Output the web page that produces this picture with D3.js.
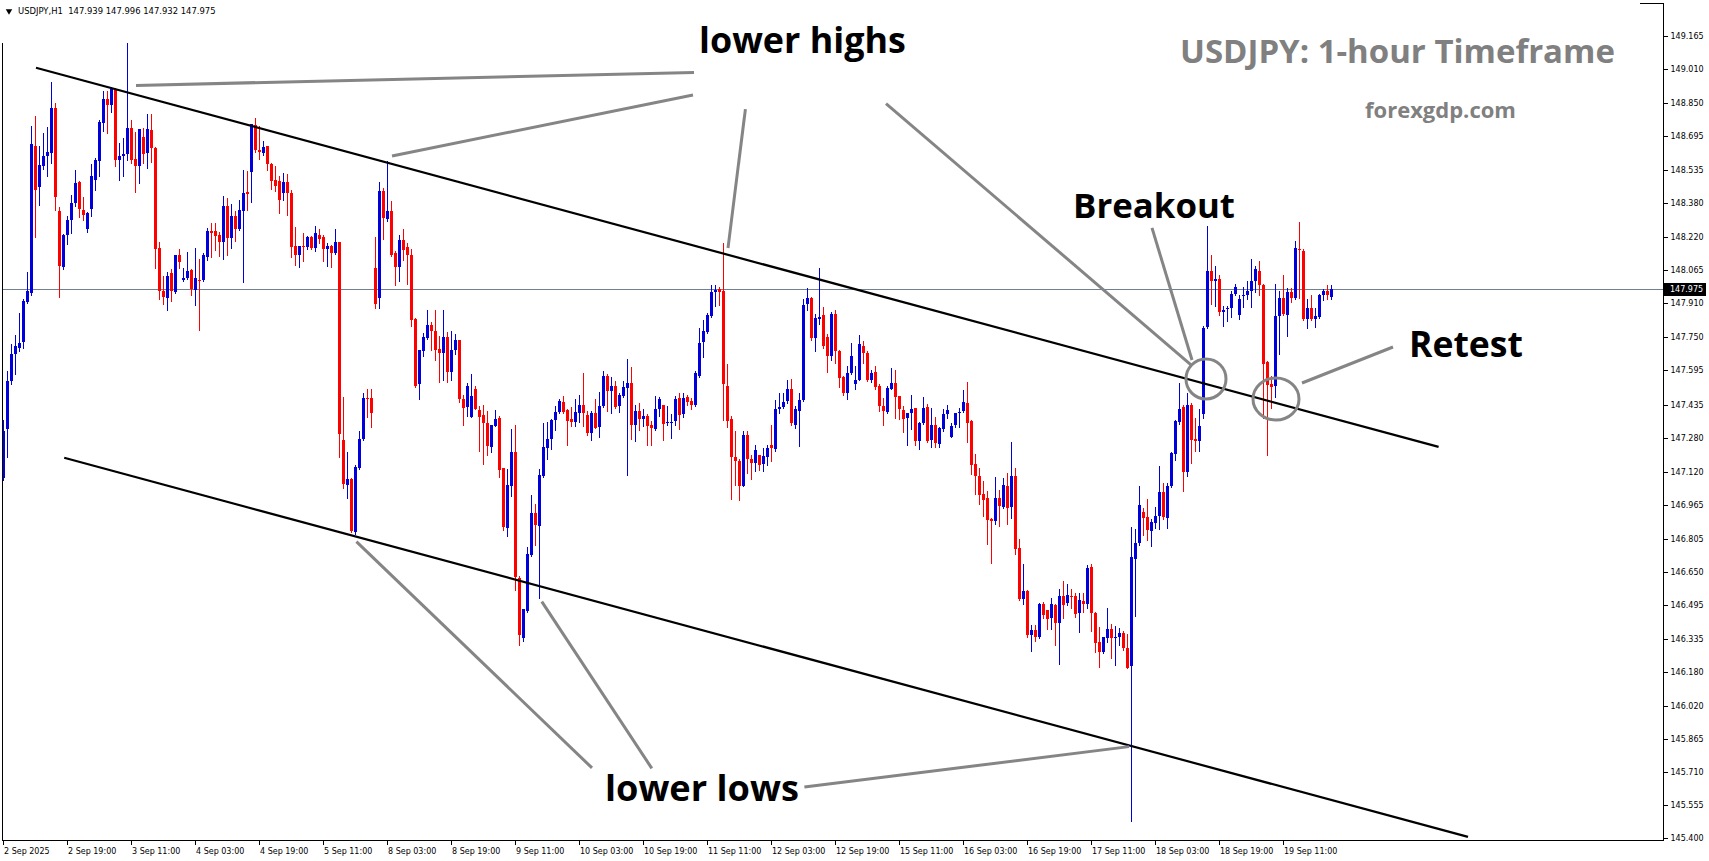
<!DOCTYPE html>
<html><head><meta charset="utf-8">
<script src="https://cdn.jsdelivr.net/npm/d3@7/dist/d3.min.js"></script>
<style>html,body{margin:0;padding:0;background:#fff;overflow:hidden}svg{display:block}</style>
</head><body>
<svg id="chart" width="1709" height="861"></svg>
<script>
// ---------------- DATA (USDJPY H1) ----------------
const opens = [147.09,147.318,147.545,147.67,147.70,147.73,147.915,147.96,148.65,148.457,148.557,148.60,148.617,148.825,148.345,148.08,148.23,148.30,148.38,148.48,148.35,148.26,148.355,148.49,148.578,148.755,148.867,148.84,148.914,148.585,148.60,148.609,148.734,148.588,148.554,148.692,148.617,148.726,148.64,148.17,147.97,147.934,148.053,147.962,148.139,148.019,148.03,148.066,147.972,148.02,148.02,148.128,148.249,148.249,148.233,148.20,148.369,148.218,148.319,148.257,148.343,148.433,148.526,148.745,148.628,148.617,148.648,148.565,148.487,148.484,148.429,148.48,148.429,148.178,148.139,148.181,148.175,148.22,148.17,148.233,148.22,148.163,148.178,148.144,148.199,147.27,147.056,147.083,146.836,147.138,147.275,147.466,147.466,148.074,147.936,148.437,148.307,148.343,148.144,148.08,148.205,148.174,148.136,147.837,147.529,147.685,147.748,147.806,147.782,147.696,147.675,147.751,147.587,147.69,147.736,147.463,147.423,147.376,147.506,147.407,147.385,147.349,147.236,147.336,147.373,147.135,146.856,147.052,147.213,146.621,146.337,146.468,146.728,146.926,146.864,147.099,147.232,147.271,147.362,147.399,147.446,147.408,147.365,147.354,147.393,147.432,147.388,147.302,147.396,147.33,147.427,147.568,147.498,147.521,147.427,147.474,147.513,147.537,147.341,147.404,147.368,147.38,147.341,147.318,147.415,147.435,147.346,147.349,147.357,147.466,147.391,147.471,147.451,147.435,147.571,147.728,147.775,147.85,147.962,147.975,147.967,147.521,147.365,147.188,147.172,147.052,147.29,147.18,147.161,147.20,147.158,147.19,147.243,147.224,147.416,147.423,147.451,147.506,147.341,147.404,147.455,147.905,147.936,147.748,147.837,147.853,147.753,147.665,147.858,147.685,147.563,147.49,147.581,147.532,147.552,147.712,147.678,147.548,147.587,147.521,147.43,147.399,147.51,147.534,147.474,147.409,147.37,147.394,147.417,147.265,147.347,147.422,147.269,147.339,147.25,147.319,147.391,147.284,147.339,147.394,147.406,147.444,147.359,147.156,147.10,147.015,146.998,146.898,146.89,146.995,146.952,147.053,146.956,147.10,146.76,146.522,146.56,146.353,146.377,146.342,146.499,146.47,146.431,146.494,146.408,146.536,146.502,146.536,146.536,146.455,146.514,146.499,146.674,146.458,146.322,146.272,146.337,146.381,146.342,146.342,146.364,146.29,146.207,146.708,146.783,146.929,146.906,146.84,146.878,146.91,147.024,146.903,147.054,147.205,147.351,147.421,147.118,147.432,147.275,147.262,147.389,147.799,148.064,148.013,148.026,147.867,147.886,147.886,147.956,147.856,147.943,147.95,147.966,148.013,148.064,147.994,147.635,147.531,147.521,147.852,147.937,147.856,147.962,147.937,148.164,148.158,147.837,147.886,147.837,147.848,147.947,147.966,147.939];
const highs = [147.36,147.59,147.72,147.76,147.865,147.93,148.056,148.742,148.79,148.65,148.71,148.74,148.95,148.85,148.36,148.235,148.32,148.42,148.538,148.485,148.41,148.34,148.562,148.593,148.77,148.906,148.906,148.926,148.92,148.664,148.684,149.133,148.773,148.714,148.73,148.734,148.80,148.797,148.645,148.199,148.038,148.058,148.069,148.135,148.163,148.074,148.15,148.069,148.17,148.116,148.147,148.265,148.285,148.285,148.244,148.416,148.405,148.374,148.343,148.393,148.534,148.53,148.75,148.778,148.742,148.674,148.65,148.568,148.554,148.51,148.52,148.515,148.441,148.269,148.18,148.238,148.228,148.225,148.275,148.261,148.233,148.191,148.186,148.257,148.20,147.47,147.211,147.09,147.15,147.31,147.487,147.506,147.51,148.221,148.479,148.452,148.578,148.39,148.155,148.229,148.257,148.191,148.163,147.842,147.69,147.772,147.881,147.822,147.881,147.756,147.878,147.775,147.779,147.768,147.74,147.482,147.537,147.576,147.521,147.43,147.435,147.404,147.341,147.407,147.38,147.135,147.133,147.318,147.338,146.629,146.473,146.767,147.008,146.969,147.133,147.349,147.352,147.365,147.427,147.462,147.474,147.412,147.424,147.459,147.482,147.581,147.404,147.404,147.463,147.493,147.59,147.576,147.563,147.545,147.49,147.545,147.651,147.61,147.435,147.443,147.415,147.391,147.357,147.474,147.47,147.435,147.427,147.391,147.477,147.487,147.487,147.482,147.466,147.592,147.792,147.834,147.865,147.994,147.994,147.987,148.194,147.623,147.383,147.313,147.177,147.31,147.31,147.20,147.247,147.20,147.232,147.247,147.341,147.454,147.487,147.487,147.552,147.556,147.427,147.49,147.928,147.983,147.94,147.858,148.077,147.894,147.764,147.869,147.878,147.69,147.571,147.615,147.725,147.615,147.759,147.732,147.685,147.599,147.618,147.529,147.466,147.521,147.607,147.599,147.477,147.428,147.394,147.48,147.42,147.355,147.469,147.438,147.417,147.375,147.331,147.414,147.433,147.347,147.397,147.417,147.503,147.542,147.362,147.203,147.135,147.076,147.031,146.90,147.096,147.034,147.089,147.112,147.261,147.139,146.802,146.686,146.564,146.40,146.40,146.505,146.51,146.472,146.525,146.499,146.569,146.607,146.592,146.569,146.549,146.549,146.549,146.682,146.685,146.46,146.392,146.345,146.481,146.405,146.395,146.384,146.372,146.36,146.859,146.85,147.054,146.948,146.991,146.897,146.954,147.148,147.067,147.067,147.213,147.36,147.534,147.432,147.489,147.44,147.37,147.413,147.805,148.272,148.136,148.083,148.045,147.899,147.899,147.969,148.003,147.95,147.988,148.013,148.117,148.083,148.107,147.999,147.64,147.568,147.999,147.966,148.041,147.984,147.981,148.202,148.291,148.164,147.928,147.947,147.89,147.956,147.975,147.994,147.996];
const lows = [147.08,147.19,147.53,147.58,147.685,147.70,147.91,147.95,148.22,148.37,148.54,148.51,148.57,148.35,147.94,148.07,148.19,148.24,148.366,148.315,148.30,148.244,148.32,148.44,148.51,148.72,148.708,148.807,148.554,148.487,148.507,148.585,148.57,148.432,148.473,148.57,148.546,148.573,148.074,147.931,147.905,147.878,147.92,147.96,148.077,148.015,148.025,147.947,147.90,147.787,148.014,148.113,148.127,148.16,148.131,148.116,148.135,148.17,148.202,148.252,148.009,148.346,148.385,148.621,148.588,148.606,148.535,148.448,148.437,148.332,148.394,148.327,148.128,148.089,148.08,148.108,148.167,148.166,148.155,148.191,148.111,148.085,148.08,148.14,147.188,147.044,146.997,146.835,146.825,147.133,147.27,147.377,147.329,147.889,147.886,148.21,148.296,148.131,147.998,148.017,148.113,148.003,147.803,147.516,147.463,147.662,147.743,147.693,147.646,147.54,147.549,147.54,147.552,147.67,147.446,147.338,147.38,147.376,147.412,147.216,147.158,147.197,147.211,147.333,147.095,146.845,146.817,147.005,146.563,146.308,146.327,146.46,146.726,146.775,146.527,147.095,147.177,147.224,147.315,147.393,147.393,147.247,147.333,147.333,147.352,147.333,147.294,147.268,147.326,147.283,147.424,147.404,147.393,147.42,147.399,147.471,147.106,147.271,147.263,147.315,147.333,147.247,147.243,147.315,147.38,147.268,147.341,147.279,147.341,147.321,147.377,147.432,147.412,147.427,147.563,147.657,147.771,147.847,147.897,147.90,147.36,147.33,146.992,147.055,146.986,147.052,147.114,147.083,147.122,147.127,147.122,147.153,147.169,147.216,147.396,147.42,147.443,147.341,147.326,147.239,147.451,147.881,147.74,147.685,147.811,147.701,147.587,147.646,147.631,147.516,147.482,147.459,147.576,147.51,147.549,147.628,147.545,147.54,147.509,147.404,147.338,147.396,147.506,147.373,147.365,147.308,147.245,147.32,147.245,147.226,147.344,147.26,147.237,147.237,147.237,147.312,147.37,147.281,147.328,147.331,147.402,147.261,147.109,147.015,146.968,146.912,146.78,146.693,146.874,146.866,146.948,146.874,146.904,146.733,146.517,146.499,146.345,146.28,146.326,146.34,146.431,146.381,146.381,146.306,146.215,146.431,146.494,146.478,146.436,146.369,146.463,146.478,146.373,146.275,146.204,146.267,146.322,146.244,146.212,146.306,146.283,146.197,145.478,146.443,146.774,146.821,146.797,146.77,146.853,146.85,146.897,146.853,147.048,147.175,147.345,147.029,147.099,147.162,147.218,147.218,147.37,147.795,147.905,147.899,147.856,147.805,147.829,147.848,147.95,147.837,147.894,147.928,147.894,147.962,147.95,147.37,147.20,147.417,147.47,147.672,147.856,147.757,147.918,147.932,147.937,147.833,147.792,147.833,147.799,147.843,147.924,147.932,147.932];
const closes = [147.31,147.545,147.67,147.71,147.725,147.92,147.967,148.656,148.441,148.56,148.60,148.62,148.825,148.41,148.085,148.23,148.30,148.383,148.476,148.355,148.327,148.335,148.507,148.585,148.76,148.867,148.84,148.914,148.585,148.604,148.613,148.734,148.585,148.554,148.729,148.613,148.729,148.637,148.167,147.967,147.939,148.038,147.97,148.135,148.103,148.03,148.061,147.975,148.03,148.014,148.139,148.249,148.238,148.225,148.197,148.369,148.218,148.322,148.257,148.346,148.429,148.423,148.75,148.628,148.62,148.643,148.565,148.484,148.46,148.394,148.48,148.429,148.174,148.139,148.178,148.174,148.222,148.17,148.238,148.213,148.163,148.178,148.144,148.199,147.297,147.06,147.083,146.84,147.142,147.275,147.466,147.462,147.393,147.905,148.437,148.311,148.343,148.139,148.08,148.205,148.16,148.136,147.831,147.524,147.69,147.753,147.806,147.779,147.693,147.675,147.753,147.587,147.69,147.737,147.459,147.419,147.52,147.474,147.415,147.376,147.349,147.24,147.338,147.369,147.127,146.859,147.055,147.211,146.626,146.351,146.473,146.731,146.926,146.869,147.102,147.236,147.274,147.36,147.401,147.451,147.399,147.357,147.354,147.399,147.432,147.393,147.299,147.396,147.326,147.43,147.571,147.498,147.521,147.423,147.482,147.518,147.537,147.341,147.404,147.369,147.38,147.333,147.326,147.415,147.459,147.344,147.352,147.355,147.462,147.388,147.466,147.446,147.435,147.584,147.725,147.779,147.853,147.962,147.972,147.962,147.529,147.357,147.188,147.169,147.052,147.294,147.177,147.161,147.221,147.153,147.193,147.232,147.229,147.416,147.424,147.448,147.506,147.346,147.412,147.455,147.90,147.936,147.748,147.839,147.847,147.712,147.665,147.858,147.685,147.56,147.487,147.584,147.665,147.552,147.717,147.678,147.549,147.581,147.518,147.427,147.404,147.513,147.534,147.471,147.412,147.366,147.394,147.414,147.265,147.35,147.417,147.265,147.339,147.253,147.326,147.391,147.409,147.334,147.394,147.402,147.449,147.35,147.151,147.10,147.01,146.987,146.893,146.89,146.995,146.959,147.057,146.948,147.10,146.757,146.522,146.56,146.353,146.377,146.342,146.499,146.447,146.427,146.499,146.411,146.536,146.494,146.541,146.533,146.452,146.517,146.499,146.669,146.455,146.317,146.272,146.342,146.381,146.337,146.345,146.364,146.29,146.197,146.717,146.783,146.963,146.903,146.846,146.884,146.91,147.024,146.906,147.054,147.209,147.357,147.413,147.118,147.432,147.269,147.266,147.332,147.795,148.06,148.013,148.026,147.867,147.88,147.886,147.956,147.988,147.931,147.95,147.966,148.013,148.07,147.994,147.625,147.527,147.515,147.852,147.937,147.862,147.962,147.937,148.17,148.16,147.837,147.89,147.837,147.852,147.947,147.966,147.947,147.975];

const priceTicks = [149.165,149.010,148.850,148.695,148.535,148.380,148.220,148.065,147.910,147.750,147.595,147.435,147.280,147.120,146.965,146.805,146.650,146.495,146.335,146.180,146.020,145.865,145.710,145.555,145.400];
const timeTickBars = [0,16,32,48,64,80,96,112,128,144,160,176,192,208,224,240,256,272,288,304,320];
const timeTickLabels = ["2 Sep 2025","2 Sep 19:00","3 Sep 11:00","4 Sep 03:00","4 Sep 19:00","5 Sep 11:00","8 Sep 03:00","8 Sep 19:00","9 Sep 11:00","10 Sep 03:00","10 Sep 19:00","11 Sep 11:00","12 Sep 03:00","12 Sep 19:00","15 Sep 11:00","16 Sep 03:00","16 Sep 19:00","17 Sep 11:00","18 Sep 03:00","18 Sep 19:00","19 Sep 11:00"];
const lastPrice = 147.975;
const headerText = "USDJPY,H1  147.939 147.996 147.932 147.975";

// trend channel lines: [barIndex, price] pairs
const upperChannel = [[8.25,149.016],[358.9,147.236]];
const lowerChannel = [[15.3,147.185],[366.25,145.405]];
// grey pointer lines
const highPointers = [[[33.25,148.933],[172.75,148.994]],[[97.25,148.602],[172.5,148.888]],[[181.25,148.170],[185.6,148.822]],[[220.75,148.848],[297,147.621]]];
const lowPointers = [[[88.35,146.791],[147.25,145.729]],[[134.7,146.510],[162.2,145.727]],[[200.35,145.639],[281.5,145.829]]];
const breakoutPointer = [[287.25,148.264],[297.25,147.644]];
const retestPointer = [[324.75,147.536],[347.5,147.705]];
const circleCenters = [[300.75,147.555],[318.25,147.461]];
// annotation labels anchored at (bar, price) = left edge, vertical centre
const labelTexts = ["lower highs","Breakout","Retest","lower lows"];
const labelAnchors = [[174,149.15],[267.5,148.376],[351.5,147.724],[150.5,145.639]];
const labelWidths = [207,162,114,194];

// ---------------- DRAW ----------------
const svg = d3.select("#chart");
const x = d3.scaleLinear().domain([0, 332]).range([3, 1331]);
const y = d3.scaleLinear().domain([145.400, 149.165]).range([838, 36]);
const AX = 1663, AY = 840;

function fit(sel, w){
  const t = sel.node().getComputedTextLength();
  const fs = parseFloat(sel.attr("font-size"));
  sel.attr("font-size", fs * w / t);
  return sel;
}

// price line
svg.append("line").attr("x1",2).attr("x2",AX).attr("y1",Math.round(y(lastPrice))+0.5).attr("y2",Math.round(y(lastPrice))+0.5)
  .attr("stroke","#708090").attr("stroke-width",1).attr("shape-rendering","crispEdges");

// candles
const bars = d3.range(opens.length).map(i=>({i,o:opens[i],h:highs[i],l:lows[i],c:closes[i]}));
const cg = svg.append("g").attr("shape-rendering","crispEdges");
const col = d => d.c >= d.o ? "#0000dd" : "#ff0000";
cg.selectAll("line.w").data(bars).join("line").attr("class","w")
  .attr("x1",d=>Math.round(x(d.i))+0.5).attr("x2",d=>Math.round(x(d.i))+0.5)
  .attr("y1",d=>Math.round(y(d.h))).attr("y2",d=>Math.round(y(d.l))+1)
  .attr("stroke",col).attr("stroke-width",1);
cg.selectAll("rect.b").data(bars).join("rect").attr("class","b")
  .attr("x",d=>Math.round(x(d.i))-1).attr("width",3)
  .attr("y",d=>Math.round(y(Math.max(d.o,d.c))))
  .attr("height",d=>Math.max(1, Math.round(y(Math.min(d.o,d.c))) - Math.round(y(Math.max(d.o,d.c)))))
  .attr("fill",col);

// channel lines
const seg = p => d3.line().x(d=>x(d[0])).y(d=>y(d[1]))(p);
svg.append("path").attr("d",seg(upperChannel)).attr("stroke","#000").attr("stroke-width",2.2).attr("fill","none");
svg.append("path").attr("d",seg(lowerChannel)).attr("stroke","#000").attr("stroke-width",2.2).attr("fill","none");

// grey pointer lines
const grey = "#858585";
[...highPointers, ...lowPointers, breakoutPointer, retestPointer].forEach(p=>{
  svg.append("path").attr("d",seg(p)).attr("stroke",grey).attr("stroke-width",3).attr("fill","none");
});
svg.selectAll("ellipse.cir").data(circleCenters).join("ellipse").attr("class","cir")
  .attr("cx",d=>x(d[0])).attr("cy",d=>y(d[1])).attr("rx",(d,k)=>k===0?20:23).attr("ry",(d,k)=>k===0?20:21)
  .attr("fill","none").attr("stroke",grey).attr("stroke-width",3);

// annotation labels
labelTexts.forEach((t,k)=>{
  const s = svg.append("text").text(t).attr("x",x(labelAnchors[k][0])).attr("y",y(labelAnchors[k][1]))
    .attr("dominant-baseline","central").attr("font-family","'Open Sans', 'Noto Sans', sans-serif")
    .attr("font-weight",700).attr("font-size",32).attr("fill","#000");
  fit(s, labelWidths[k]);
});

// title & watermark
fit(svg.append("text").text("USDJPY: 1-hour Timeframe").attr("x",1180).attr("y",50).attr("dominant-baseline","central")
  .attr("font-family","'Open Sans', sans-serif").attr("font-weight",700).attr("font-size",28).attr("fill","#808080"),435);
fit(svg.append("text").text("forexgdp.com").attr("x",1365).attr("y",109).attr("dominant-baseline","central")
  .attr("font-family","'Open Sans', sans-serif").attr("font-weight",700).attr("font-size",28).attr("fill","#808080"),151);

// frame
const fg = svg.append("g").attr("shape-rendering","crispEdges").attr("stroke","#000").attr("stroke-width",1);
fg.append("line").attr("x1",AX+0.5).attr("x2",AX+0.5).attr("y1",3).attr("y2",AY+1);
fg.append("line").attr("x1",2).attr("x2",AX+1).attr("y1",AY+0.5).attr("y2",AY+0.5);
fg.append("line").attr("x1",2.5).attr("x2",2.5).attr("y1",43).attr("y2",AY+1);
fg.append("line").attr("x1",1640).attr("x2",AX+1).attr("y1",3.5).attr("y2",3.5);

// right price axis
const ya = d3.axisRight(y).tickValues(priceTicks).tickFormat(d3.format(".3f")).tickSize(4).tickPadding(3);
const yg = svg.append("g").attr("transform",`translate(${AX+0.5},0)`).call(ya);
yg.select(".domain").remove();
yg.selectAll("line").attr("shape-rendering","crispEdges").attr("stroke","#000");
yg.selectAll("text").attr("font-family","'DejaVu Sans', sans-serif").attr("font-size",8).attr("fill","#000");

// last price label
const lpY = Math.round(y(lastPrice));
svg.append("rect").attr("x",AX+1).attr("y",lpY-6).attr("width",42).attr("height",13).attr("fill","#000");
svg.append("text").text(d3.format(".3f")(lastPrice)).attr("x",AX+7).attr("y",lpY+0.5).attr("dominant-baseline","central")
  .attr("font-family","'DejaVu Sans', sans-serif").attr("font-size",8).attr("fill","#fff");

// bottom time axis
const tg = svg.append("g");
tg.selectAll("line").data(timeTickBars).join("line")
  .attr("x1",d=>Math.round(x(d))+0.5).attr("x2",d=>Math.round(x(d))+0.5).attr("y1",AY).attr("y2",AY+5)
  .attr("stroke","#000").attr("shape-rendering","crispEdges");
tg.selectAll("text").data(timeTickBars).join("text")
  .attr("x",d=>Math.round(x(d))+1).attr("y",AY+11).attr("dominant-baseline","central")
  .attr("font-family","'DejaVu Sans', sans-serif").attr("font-size",8).attr("fill","#000")
  .text((d,k)=>timeTickLabels[k]);

// header
svg.append("path").attr("d", d3.symbol().type(d3.symbolTriangle).size(18)()).attr("transform","translate(9,11) rotate(180)").attr("fill","#000");
fit(svg.append("text").text(headerText).attr("x",18).attr("y",11).attr("dominant-baseline","central")
  .attr("font-family","'DejaVu Sans', sans-serif").attr("font-size",8).attr("fill","#000").attr("xml:space","preserve").style("white-space","pre"),198);
</script>
</body></html>
